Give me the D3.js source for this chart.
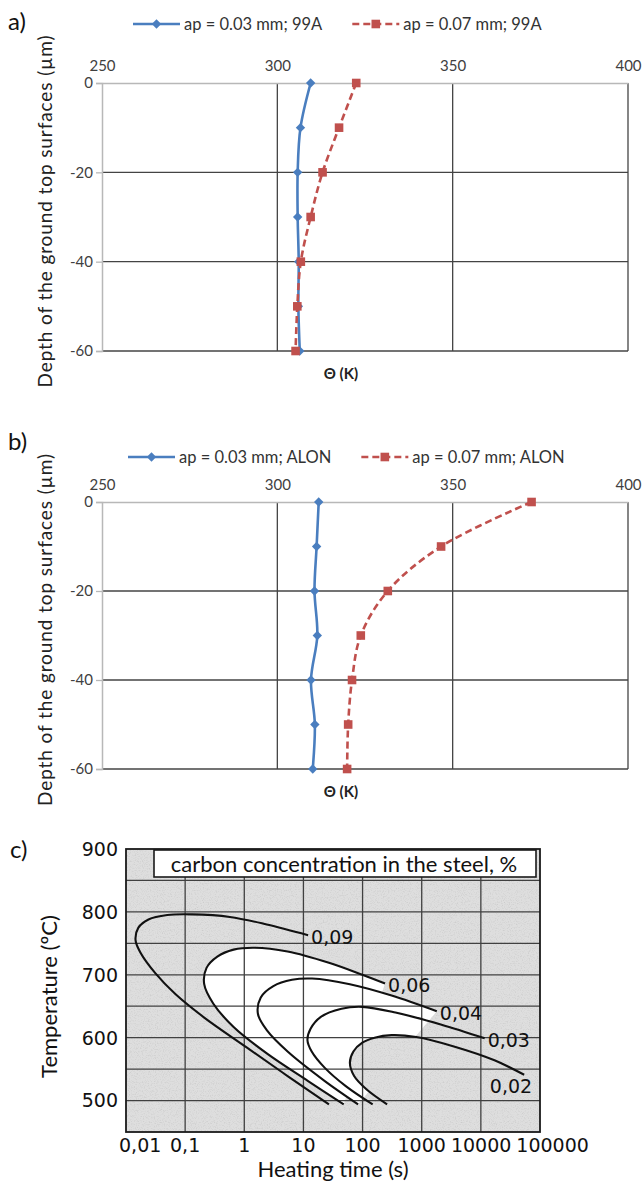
<!DOCTYPE html>
<html>
<head>
<meta charset="utf-8">
<script src="https://cdn.jsdelivr.net/npm/d3@7"></script>
<style>
  html, body { margin: 0; padding: 0; background: #fff; }
  svg { display: block; }
</style>
</head>
<body>
<svg id="fig" width="644" height="1182"></svg>
<script>
// ---- Temperature profiles below the ground surface (panels a, b) ----
const depth = [0, -10, -20, -30, -40, -50, -60];
const theta99A_003 = [309.5, 306.6, 305.8, 305.8, 306.1, 306.0, 306.4];
const theta99A_007 = [322.5, 317.6, 312.9, 309.5, 306.7, 305.7, 305.2];
const thetaALON_003 = [311.8, 311.2, 310.6, 311.4, 309.6, 310.7, 310.1];
const thetaALON_007 = [372.5, 346.7, 331.5, 323.8, 321.3, 320.2, 319.9];
const thetaTicks = [250, 300, 350, 400];
const depthTicks = [0, -20, -40, -60];

// ---- Carbon concentration curves (panel c): [heating time s, temperature °C] ----
const timeTicks = [0.01, 0.1, 1, 10, 100, 1000, 10000, 100000];
const timeTickLabels = ["0,01", "0,1", "1", "10", "100", "1000", "10000", "100000"];
const tempTicks = [500, 600, 700, 800, 900];
const tempGrid = [500, 550, 600, 650, 700, 750, 800, 850];
const carbonLabels = ["0,09", "0,06", "0,04", "0,03", "0,02"];
const curve009 = [[27, 494], [5.4, 539], [1.08, 585], [0.21, 632], [0.069, 669], [0.031, 703],
  [0.0176, 735], [0.0145, 755], [0.0162, 775], [0.024, 788], [0.05, 795], [0.13, 796],
  [0.57, 792], [2.4, 780], [12, 763]];
const curve006 = [[48, 494], [12, 531], [2.4, 575], [0.66, 617], [0.30, 654], [0.21, 685],
  [0.23, 711], [0.35, 729], [0.66, 740], [1.5, 743], [5.4, 737], [27, 719], [99, 700], [240, 686]];
const curve004 = [[84, 494], [23, 531], [5.4, 578], [2.4, 612], [1.7, 638], [1.9, 664],
  [3.1, 682], [6.4, 692], [14, 694], [61, 685], [310, 667], [1800, 642]];
const curve003 = [[148, 494], [52, 523], [23, 552], [13.8, 578], [11.7, 596], [13.2, 614],
  [19.7, 633], [44, 646], [99, 649], [360, 640], [2100, 621], [11600, 599]];
const curve002 = [[260, 494], [116, 518], [72, 539], [61, 560], [70, 578], [99, 592],
  [160, 600], [310, 604], [810, 601], [3500, 586], [17000, 564], [54000, 541]];
const carbonCurves = [curve009, curve006, curve004, curve003, curve002];

const svg = d3.select("#fig");
const defs = svg.append("defs");
const BLUE = "#4a7ebf", RED = "#c0504d";
const UI_FONT = "Lato, 'Open Sans', sans-serif";
const NUM_FONT = "'DejaVu Sans', sans-serif";

// ---------------------------------------------------------------------
function profilePanel(p) {
  const g = svg.append("g");
  const x = d3.scaleLinear().domain([250, 400]).range([102, 628]);
  const y = d3.scaleLinear().domain([0, -60]).range([p.top, p.bottom]);

  // grid
  g.selectAll(".hg").data(depthTicks.filter(d => d !== 0)).join("line")
    .attr("x1", x(250)).attr("x2", x(400))
    .attr("y1", d => y(d)).attr("y2", d => y(d))
    .attr("stroke", "#444").attr("stroke-width", 1.3);
  g.selectAll(".vg").data(thetaTicks.filter(d => d !== 250)).join("line")
    .attr("x1", d => x(d)).attr("x2", d => x(d))
    .attr("y1", y(0)).attr("y2", y(-60))
    .attr("stroke", "#444").attr("stroke-width", 1.3);

  // axes (top and left)
  const ax = g.append("g").attr("transform", `translate(0,${y(0)})`)
    .call(d3.axisTop(x).tickValues(thetaTicks).tickFormat(d => String(d))
      .tickSize(0).tickPadding(12));
  const ay = g.append("g").attr("transform", `translate(${x(250)},0)`)
    .call(d3.axisLeft(y).tickValues(depthTicks).tickFormat(d => String(d))
      .tickSize(6).tickPadding(3));
  [ax, ay].forEach(a => {
    a.select(".domain").attr("stroke", "#b8b8b8").attr("stroke-width", 1.5);
    a.selectAll(".tick line").attr("stroke", "#b8b8b8").attr("stroke-width", 1.3);
    a.selectAll("text").attr("font-family", UI_FONT).attr("font-size", 15).attr("fill", "#404040");
  });

  // series
  const line = d3.line().x(d => x(d[0])).y(d => y(d[1])).curve(d3.curveCatmullRom);
  p.series.forEach(s => {
    const pts = s.values.map((v, i) => [v, depth[i]]);
    g.append("path").attr("d", line(pts)).attr("fill", "none")
      .attr("stroke", s.color).attr("stroke-width", 2.6)
      .attr("stroke-dasharray", s.dashed ? "7,4" : null);
    g.selectAll(null).data(pts).join("path")
      .attr("transform", d => `translate(${x(d[0])},${y(d[1])}) rotate(${s.marker === "diamond" ? 45 : 0})`)
      .attr("d", d3.symbol(d3.symbolSquare, s.marker === "diamond" ? 44 : 74)())
      .attr("fill", s.color);
  });

  // legend
  let lx = p.legendX;
  p.series.forEach(s => {
    const lg = g.append("g");
    lg.append("line").attr("x1", lx).attr("x2", lx + 47)
      .attr("y1", p.legendY).attr("y2", p.legendY)
      .attr("stroke", s.color).attr("stroke-width", 2.6)
      .attr("stroke-dasharray", s.dashed ? "7,4" : null);
    lg.append("path")
      .attr("transform", `translate(${lx + 23.5},${p.legendY}) rotate(${s.marker === "diamond" ? 45 : 0})`)
      .attr("d", d3.symbol(d3.symbolSquare, s.marker === "diamond" ? 44 : 74)())
      .attr("fill", s.color);
    const t = lg.append("text").attr("x", lx + 51).attr("y", p.legendY).attr("dy", "0.35em")
      .attr("font-family", UI_FONT).attr("font-size", 16.5).attr("fill", "#333")
      .text(s.name);
    lx += 51 + t.node().getComputedTextLength() + 30;
  });

  // titles
  g.append("text").attr("transform", `translate(52,${(p.top + p.bottom) / 2 - 6}) rotate(-90)`)
    .attr("text-anchor", "middle").attr("font-family", UI_FONT).attr("font-size", 19)
    .attr("letter-spacing", 0.9).attr("fill", "#222")
    .text("Depth of the ground top surfaces (µm)");
  g.append("text").attr("x", 341).attr("y", p.bottom + 28).attr("text-anchor", "middle")
    .attr("font-family", UI_FONT).attr("font-size", 15).attr("font-weight", "bold").attr("fill", "#222")
    .text("Θ (K)");
  g.append("text").attr("x", 8).attr("y", p.tagY).attr("font-family", UI_FONT)
    .attr("font-size", 24).attr("fill", "#111").text(p.tag);
}

profilePanel({
  tag: "a)", tagY: 30, top: 83, bottom: 351, legendX: 133, legendY: 24,
  series: [
    { name: "ap = 0.03 mm; 99A", values: theta99A_003, color: BLUE, marker: "diamond" },
    { name: "ap = 0.07 mm; 99A", values: theta99A_007, color: RED, marker: "square", dashed: true }
  ]
});
profilePanel({
  tag: "b)", tagY: 450, top: 502, bottom: 769, legendX: 128, legendY: 457,
  series: [
    { name: "ap = 0.03 mm; ALON", values: thetaALON_003, color: BLUE, marker: "diamond" },
    { name: "ap = 0.07 mm; ALON", values: thetaALON_007, color: RED, marker: "square", dashed: true }
  ]
});

// ---------------------------------------------------------------------
// Panel c
(function () {
  const g = svg.append("g");
  const x = d3.scaleLog().domain([0.01, 100000]).range([126, 540]);
  const y = d3.scaleLinear().domain([450, 900]).range([1132, 849]);
  const [x0, x1] = x.range(), [y0, y1] = [y(900), y(450)];
  const line = d3.line().x(d => x(d[0])).y(d => y(d[1])).curve(d3.curveCatmullRom);

  const f = defs.append("filter").attr("id", "grain")
    .attr("x", 0).attr("y", 0).attr("width", 1).attr("height", 1);
  f.append("feTurbulence").attr("type", "fractalNoise").attr("baseFrequency", 0.85)
    .attr("numOctaves", 2).attr("seed", 7);
  f.append("feColorMatrix").attr("type", "matrix")
    .attr("values", "0 0 0 0 0.35  0 0 0 0 0.35  0 0 0 0 0.35  1.3 0 0 0 -0.62");

  // light area: enclosed by the 0,06 and 0,04 curves, outside the 0,02 curve
  const m = defs.append("mask").attr("id", "lightArea");
  m.append("rect").attr("x", x0).attr("y", y0).attr("width", x1 - x0).attr("height", y1 - y0).attr("fill", "#000");
  m.append("path").attr("d", line(curve006) + "Z").attr("fill", "#fff");
  m.append("path").attr("d", line(curve004) + "Z").attr("fill", "#fff");
  m.append("path").attr("d", line(curve002) + "Z").attr("fill", "#000");

  g.append("rect").attr("x", x0).attr("y", y0).attr("width", x1 - x0).attr("height", y1 - y0)
    .attr("fill", "#dedede");
  g.append("rect").attr("x", x0).attr("y", y0).attr("width", x1 - x0).attr("height", y1 - y0)
    .attr("filter", "url(#grain)").attr("opacity", 0.55);
  g.append("rect").attr("x", x0).attr("y", y0).attr("width", x1 - x0).attr("height", y1 - y0)
    .attr("fill", "#fff").attr("mask", "url(#lightArea)");

  // grid
  g.selectAll(".vg").data(timeTicks.slice(1, -1)).join("line")
    .attr("x1", d => x(d)).attr("x2", d => x(d)).attr("y1", y0).attr("y2", y1)
    .attr("stroke", "#404040").attr("stroke-width", 1.3);
  g.selectAll(".hg").data(tempGrid).join("line")
    .attr("x1", x0).attr("x2", x1).attr("y1", d => y(d)).attr("y2", d => y(d))
    .attr("stroke", "#404040").attr("stroke-width", 1.3);

  g.append("rect").attr("x", x0).attr("y", y0).attr("width", x1 - x0).attr("height", y1 - y0)
    .attr("fill", "none").attr("stroke", "#1a1a1a").attr("stroke-width", 1.8);

  // header box
  g.append("rect").attr("x", 154).attr("y", 850).attr("width", 382).attr("height", 27)
    .attr("fill", "#fff").attr("stroke", "#1a1a1a").attr("stroke-width", 1.6);
  g.append("text").attr("x", 344).attr("y", 864).attr("dy", "0.35em").attr("text-anchor", "middle")
    .attr("font-family", UI_FONT).attr("font-size", 22).attr("fill", "#111")
    .text("carbon concentration in the steel, %");

  // curves and labels
  carbonCurves.forEach((c, i) => {
    g.append("path").attr("d", line(c)).attr("fill", "none")
      .attr("stroke", "#111").attr("stroke-width", 2.1);
    const end = c[c.length - 1];
    const ex = x(end[0]), ey = y(end[1]);
    const t = g.append("text").attr("font-family", NUM_FONT).attr("font-size", 19)
      .attr("fill", "#111").attr("dy", "0.36em").text(carbonLabels[i])
      .attr("x", ex + 3).attr("y", ey + 2);
    if (ex + 3 + t.node().getComputedTextLength() > x1) {
      t.attr("text-anchor", "end").attr("x", ex + 8).attr("y", ey + 11);
    }
  });

  // y tick labels
  g.selectAll(".yt").data(tempTicks).join("text")
    .attr("x", x0 - 8).attr("y", d => y(d)).attr("dy", "0.36em").attr("text-anchor", "end")
    .attr("font-family", NUM_FONT).attr("font-size", 19).attr("fill", "#111")
    .text(d => d);

  // x tick labels, nudged apart where they would collide
  const xl = g.selectAll(".xt").data(timeTicks).join("text")
    .attr("x", d => x(d)).attr("y", 1152).attr("text-anchor", "middle")
    .attr("font-family", NUM_FONT).attr("font-size", 19).attr("fill", "#111")
    .text((d, i) => timeTickLabels[i]);
  let prevRight = x0 - 8;
  xl.each(function (d, i) {
    const w = this.getComputedTextLength();
    let cx = +this.getAttribute("x");
    const gap = i === 0 ? 1 : 5;
    if (cx - w / 2 < prevRight + gap) cx = prevRight + gap + w / 2;
    this.setAttribute("x", cx);
    prevRight = cx + w / 2;
  });

  // titles
  g.append("text").attr("x", (x0 + x1) / 2).attr("y", 1177).attr("text-anchor", "middle")
    .attr("font-family", UI_FONT).attr("font-size", 22).attr("fill", "#111")
    .text("Heating time (s)");
  g.append("text").attr("transform", `translate(57,${(y0 + y1) / 2 + 6}) rotate(-90)`)
    .attr("text-anchor", "middle").attr("font-family", UI_FONT).attr("font-size", 22)
    .attr("fill", "#111").text("Temperature (ºC)");
  g.append("text").attr("x", 10).attr("y", 858).attr("font-family", UI_FONT)
    .attr("font-size", 24).attr("fill", "#111").text("c)");
})();
</script>
</body>
</html>
